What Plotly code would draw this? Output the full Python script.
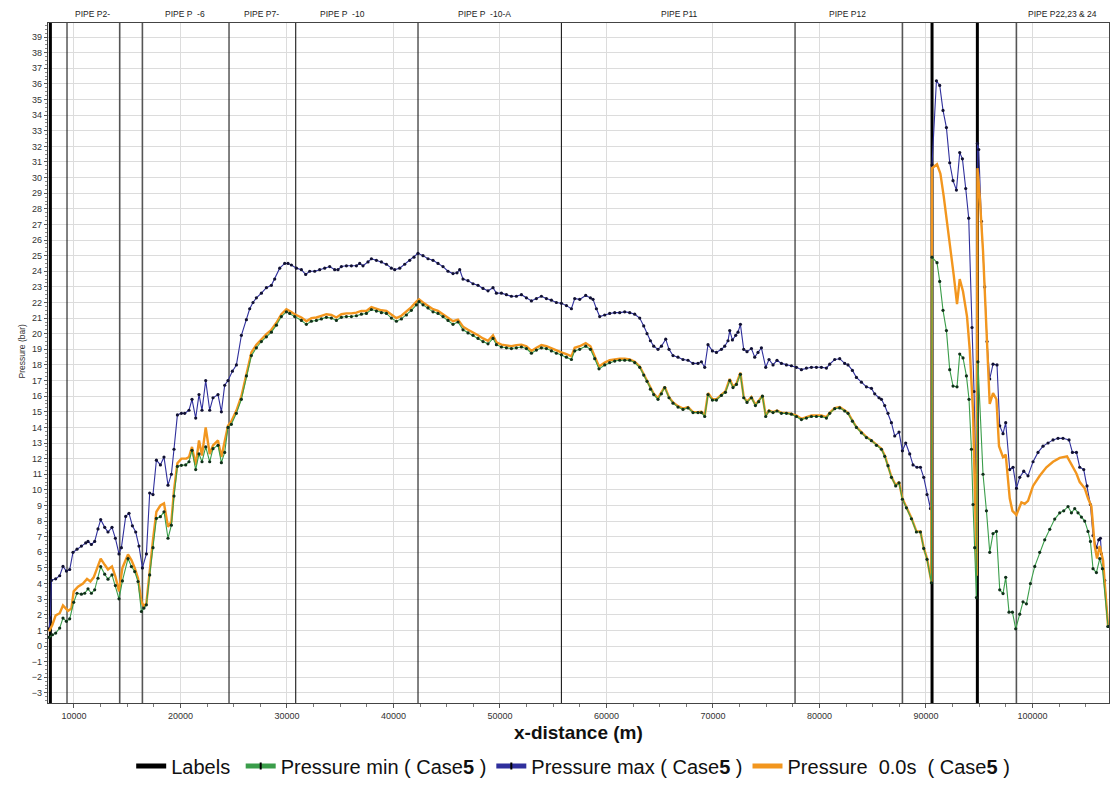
import plotly.graph_objects as go

# ---------------- data (x in metres, pressure in bar) ----------------
BLUE_X = [7653, 7785, 7879, 8282, 8658, 8968, 9287, 9597, 9907, 10283, 10696, 11100, 11316, 11635, 11945,
          12255, 12508, 12884, 13194, 13569, 13889, 14227, 14452, 14856, 15166, 15485, 15795, 16105, 16424,
          16800, 17109, 17419, 17739, 18114, 18453, 18828, 19147, 19391, 19711, 20086, 20396, 20800, 21082,
          21429, 21739, 22021, 22368, 22744, 23054, 23523, 23842, 24152, 24462, 24875, 25251, 25721, 26190,
          26500, 26810, 27129, 27599, 28068, 28538, 28848, 29317, 29787, 30096, 30416, 30885, 31355, 31759,
          32134, 32604, 33073, 33543, 34012, 34482, 34792, 35111, 35581, 36050, 36520, 36830, 37139, 37609,
          37929, 38398, 38867, 39337, 39806, 40116, 40586, 41055, 41525, 41929, 42304, 42774, 43243, 43713,
          44182, 44652, 45121, 45591, 45966, 46220, 46530, 47000, 47469, 47939, 48408, 48878, 49347, 49667,
          50136, 50605, 51075, 51544, 52014, 52483, 52953, 53422, 53892, 54361, 54831, 55300, 55770, 56240,
          56709, 57019, 57488, 58052, 58494, 58738, 59057, 59367, 59836, 60306, 60775, 61245, 61714, 62184,
          62653, 63123, 63499, 63808, 64128, 64438, 64841, 65160, 65564, 65874, 66250, 66719, 67189, 67658,
          68128, 68597, 68916, 69227, 69537, 69950, 70326, 70795, 71105, 71415, 71575, 71828, 72138, 72354,
          72579, 72889, 73199, 73612, 73922, 74232, 74551, 74955, 75265, 75641, 76016, 76430, 76899, 77369,
          77838, 78307, 78777, 79246, 79716, 80185, 80655, 80965, 81434, 81904, 82373, 82683, 83096, 83472,
          83941, 84411, 84881, 85190, 85594, 85819, 86130, 86440, 86759, 87069, 87473, 87790, 88101, 88477,
          88787, 89163, 89482, 89792, 90102, 90421, 90571, 90985, 91294, 91604, 91923, 92233, 92543, 92863,
          93172, 93426, 93736, 94017, 94328, 94516, 94742, 94836, 94958, 95210, 95520, 95736, 95990, 96300,
          96675, 96929, 97239, 97492, 97868, 98178, 98497, 98807, 99183, 99586, 100056, 100525, 100995,
          101464, 101934, 102403, 102873, 103436, 103756, 104131, 104441, 104817, 105127, 105446, 105690,
          106009, 106225, 106385, 106479, 106789, 107099]
BLUE_Y = [1.1, 1.8, 4.2, 4.3, 4.5, 5.1, 4.8, 4.9, 6.0, 6.2, 6.4, 6.6, 6.7, 6.5, 6.7,
          7.5, 8.1, 7.6, 7.3, 7.6, 6.9, 5.9, 6.3, 8.3, 8.5, 7.7, 7.3, 6.4, 5.0,
          5.9, 9.8, 9.7, 11.9, 11.6, 12.1, 10.3, 11.0, 12.6, 14.8, 14.9, 14.9, 15.1, 15.8,
          14.6, 16.1, 15.1, 17.0, 15.1, 15.9, 16.1, 15.0, 16.7, 17.0, 17.6, 18.0, 19.9, 20.9,
          21.6, 22.0, 22.3, 22.6, 22.95, 23.1, 23.5, 24.2, 24.5, 24.5, 24.4, 24.2, 24.1, 23.8,
          24.0, 24.0, 24.1, 24.2, 24.3, 24.1, 24.1, 24.3, 24.35, 24.35, 24.35, 24.5, 24.35, 24.6,
          24.8, 24.7, 24.6, 24.45, 24.2, 24.1, 24.2, 24.45, 24.7, 24.9, 25.15, 25.0, 24.8, 24.7,
          24.5, 24.3, 24.0, 23.85, 23.9, 24.1, 23.5, 23.4, 23.2, 23.1, 22.9, 22.75, 22.95, 22.6,
          22.6, 22.5, 22.4, 22.4, 22.5, 22.3, 22.1, 22.25, 22.4, 22.25, 22.15, 22.0, 21.95, 21.8,
          21.6, 22.25, 22.2, 22.45, 22.3, 22.2, 21.6, 21.1, 21.2, 21.3, 21.35, 21.35, 21.4, 21.35,
          21.25, 21.0, 20.5, 20.0, 19.55, 19.2, 19.0, 19.2, 19.65, 19.0, 18.6, 18.5, 18.35, 18.3,
          18.1, 18.1, 18.2, 17.85, 19.3, 18.9, 18.8, 19.0, 19.2, 19.55, 20.2, 19.6, 19.9, 20.1,
          20.6, 19.0, 18.85, 19.05, 18.5, 18.8, 19.1, 17.85, 18.35, 18.0, 18.3, 18.1, 18.0, 17.95,
          17.85, 17.7, 17.8, 17.85, 17.85, 17.85, 17.8, 18.05, 18.35, 18.4, 18.1, 18.0, 17.65, 17.2,
          16.9, 16.6, 16.5, 16.15, 15.9, 15.8, 15.4, 14.9, 14.3, 13.45, 13.7, 12.5, 13.0, 12.3,
          11.6, 11.45, 11.45, 10.8, 9.7, 8.8, 30.8, 36.2, 35.9, 34.3, 33.2, 30.95, 29.8, 29.2,
          31.6, 31.2, 29.3, 27.4, 20.4, 16.3, 9.0, 32.2, 31.8, 27.2, 23.0, 19.5, 17.1, 18.05,
          18.0, 14.1, 13.6, 14.3, 11.3, 11.45, 10.1, 10.8, 11.2, 10.9, 11.8, 12.4, 12.8,
          13.0, 13.2, 13.3, 13.3, 13.2, 12.4, 12.4, 11.45, 11.3, 10.25, 9.06, 7.07,
          6.3, 6.8, 6.9, 5.9, 4.2, 1.25]

ORANGE_X = [7653, 7973, 8282, 8658, 8968, 9437, 9757, 9973, 10377, 10846, 11222, 11541, 11851, 12161,
            12508, 12884, 13194, 13569, 13889, 14227, 14546, 15072, 15391, 15701, 16011, 16330, 16574,
            16800, 17109, 17419, 17739, 18114, 18453, 18828, 19147, 19391, 19711, 20086, 20556, 20800,
            21082, 21429, 21739, 22021, 22368, 22744, 23054, 23523, 23842, 24152, 24462, 24781, 25251,
            25721, 26190, 26660, 27129, 27599, 28068, 28538, 29008, 29477, 29947, 30256, 30726, 31355,
            31824, 32294, 32763, 33233, 33702, 34172, 34641, 35111, 35581, 36050, 36520, 36989, 37459,
            37929, 38398, 38867, 39337, 39806, 40276, 40745, 41215, 41684, 42154, 42398, 42774, 43243,
            43713, 44182, 44652, 45121, 45591, 46060, 46530, 47000, 47469, 47939, 48408, 48878, 49347,
            49667, 50136, 50605, 51075, 51544, 52014, 52483, 52953, 53422, 53892, 54361, 54831, 55300,
            55770, 56240, 56709, 57019, 57488, 58052, 58494, 58898, 59302, 59836, 60306, 60775, 61245,
            61714, 62184, 62653, 63123, 63499, 63808, 64128, 64438, 64841, 65160, 65471, 65874, 66250,
            66719, 67189, 67658, 68128, 68597, 68916, 69227, 69537, 69950, 70326, 70795, 71171, 71575,
            71884, 72204, 72579, 72889, 73199, 73612, 73988, 74297, 74645, 74955, 75265, 75641, 76016,
            76430, 76899, 77369, 77838, 78307, 78777, 79246, 79716, 80185, 80655, 80965, 81434, 81904,
            82373, 82683, 83096, 83472, 83941, 84411, 84881, 85350, 85819, 86130, 86440, 86759, 87163,
            87473, 87790, 88167, 88637, 89107, 89482, 89792, 90102, 90515, 90571, 91041, 91360, 91670,
            91923, 92299, 92609, 92919, 93172, 93482, 93858, 94111, 94422, 94646, 94770, 94836, 95051,
            95360, 95614, 95830, 95990, 96300, 96619, 96863, 97239, 97492, 97868, 98121, 98497, 98967,
            99276, 99586, 100056, 100684, 101313, 101934, 102562, 103248, 103662, 104131, 104441,
            104911, 105220, 105540, 105850, 106066, 106319, 106629, 107099]
ORANGE_Y = [0.94, 1.36, 1.96, 2.1, 2.6, 2.25, 2.4, 3.5, 3.8, 4.0, 4.3, 4.13, 4.4, 5.0,
            5.6, 5.2, 4.9, 5.1, 4.45, 3.5, 5.0, 5.87, 5.5, 5.0, 4.34, 2.85, 2.53,
            2.74, 4.9, 6.8, 8.6, 9.0, 9.13, 7.64, 7.96, 9.97, 11.7, 12.0, 12.0, 12.1,
            12.75, 11.57, 13.17, 12.2, 14.0, 12.3, 12.85, 13.17, 12.1, 13.17, 14.1, 14.4, 15.08,
            16.0, 17.5, 18.8, 19.3, 19.65, 19.97, 20.25, 20.7, 21.25, 21.57, 21.46, 21.25, 21.04,
            20.8, 21.0, 21.04, 21.15, 21.25, 21.2, 21.04, 21.25, 21.3, 21.3, 21.35, 21.46, 21.46,
            21.7, 21.6, 21.5, 21.46, 21.2, 21.0, 21.15, 21.4, 21.7, 22.05, 22.2, 22.0, 21.8,
            21.57, 21.46, 21.25, 21.04, 20.8, 20.9, 20.45, 20.25, 20.1, 19.9, 19.7, 19.55, 19.9,
            19.45, 19.3, 19.27, 19.2, 19.27, 19.3, 19.2, 18.9, 19.1, 19.27, 19.2, 19.06, 18.9,
            18.8, 18.7, 18.55, 19.1, 19.2, 19.4, 19.2, 18.55, 17.9, 18.15, 18.3, 18.35, 18.4,
            18.4, 18.35, 18.2, 17.9, 17.4, 17.0, 16.5, 16.15, 15.87, 16.2, 16.6, 15.94, 15.6,
            15.36, 15.2, 15.3, 14.98, 14.98, 15.0, 14.76, 16.2, 15.8, 15.8, 16.1, 16.3, 17.1,
            16.6, 16.8, 17.5, 15.94, 15.65, 15.94, 15.45, 15.7, 16.05, 14.76, 15.08, 14.98, 15.08,
            14.93, 14.93, 14.87, 14.76, 14.55, 14.66, 14.76, 14.76, 14.76, 14.66, 14.93, 15.23, 15.3,
            15.08, 14.93, 14.44, 14.02, 13.7, 13.38, 13.17, 12.9, 12.64, 12.2, 11.57, 10.83, 10.3,
            10.5, 9.45, 8.9, 8.2, 7.34, 7.34, 6.3, 5.6, 4.1, 30.6, 30.85, 30.25, 28.8,
            27.5, 25.6, 23.75, 21.9, 23.5, 22.7, 21.1, 19.0, 15.0, 8.4, 4.5, 30.6, 28.8,
            25.3, 21.6, 17.7, 15.5, 16.2, 15.8, 12.8, 12.1, 12.25, 9.46, 8.66, 8.4, 9.2,
            9.1, 9.3, 10.25, 10.9, 11.45, 11.8, 12.05, 12.15, 11.6, 11.05, 10.5,
            10.1, 9.46, 8.93, 6.4, 5.6, 6.4, 5.5, 1.25]

GREEN_X = [7653, 7973, 8282, 8658, 8968, 9287, 9597, 9973, 10283, 10696, 11006, 11316, 11635, 11945,
           12255, 12508, 12884, 13194, 13569, 13889, 14227, 14546, 15072, 15391, 15701, 16011, 16330,
           16574, 16800, 17109, 17419, 17739, 18114, 18453, 18828, 19147, 19391, 19711, 20086, 20490,
           20800, 21082, 21429, 21739, 22021, 22368, 22744, 23054, 23523, 23842, 24152, 24462, 24781,
           25251, 25721, 26190, 26660, 27129, 27599, 28068, 28538, 29008, 29477, 29947, 30256, 30726,
           31355, 31824, 32294, 32763, 33233, 33702, 34172, 34641, 35111, 35581, 36050, 36520, 36989,
           37459, 37929, 38398, 38867, 39337, 39806, 40276, 40745, 41215, 41684, 42154, 42398, 42774,
           43243, 43713, 44182, 44652, 45121, 45591, 46060, 46530, 47000, 47469, 47939, 48408, 48878,
           49347, 49667, 50136, 50605, 51075, 51544, 52014, 52483, 52953, 53422, 53892, 54361, 54831,
           55300, 55770, 56240, 56709, 57019, 57488, 58052, 58494, 58898, 59302, 59836, 60306, 60775,
           61245, 61714, 62184, 62653, 63123, 63499, 63808, 64128, 64438, 64841, 65160, 65471, 65874,
           66250, 66719, 67189, 67658, 68128, 68597, 68916, 69227, 69537, 69950, 70326, 70795, 71171,
           71575, 71884, 72204, 72579, 72889, 73199, 73612, 73988, 74297, 74645, 74955, 75265, 75641,
           76016, 76430, 76899, 77369, 77838, 78307, 78777, 79246, 79716, 80185, 80655, 80965, 81434,
           81904, 82373, 82683, 83096, 83472, 83941, 84411, 84881, 85350, 85819, 86130, 86440, 86759,
           87163, 87473, 87790, 88167, 88637, 89107, 89482, 89792, 90102, 90515, 90571, 91041, 91294,
           91604, 91923, 92233, 92543, 92919, 93172, 93482, 93802, 94045, 94271, 94422, 94581, 94742,
           94880, 95360, 95680, 95990, 96300, 96619, 96929, 97239, 97492, 97802, 98121, 98431, 98807,
           99117, 99435, 99811, 100217, 100684, 101155, 101624, 102093, 102562, 102939, 103343, 103662,
           103972, 104281, 104601, 104911, 105220, 105446, 105690, 106009, 106319, 106573, 107099]
GREEN_Y = [0.56, 0.72, 0.83, 1.15, 1.79, 1.58, 1.74, 2.8, 3.38, 3.32, 3.38, 3.66, 3.38, 3.6,
           4.34, 5.09, 4.6, 4.28, 4.55, 3.87, 3.02, 4.17, 5.6, 5.09, 4.77, 4.13, 2.21,
           2.43, 2.64, 4.55, 6.3, 8.17, 8.28, 8.6, 6.9, 7.74, 9.6, 11.5, 11.57, 11.6,
           11.8, 12.53, 11.3, 12.3, 11.8, 12.75, 11.8, 12.64, 12.85, 11.74, 12.4, 14.0, 14.2,
           14.9, 15.8, 17.3, 18.6, 19.1, 19.5, 19.8, 20.1, 20.55, 21.1, 21.4, 21.3, 21.1,
           20.85, 20.6, 20.8, 20.85, 20.95, 21.05, 21.0, 20.85, 21.05, 21.1, 21.1, 21.15, 21.25,
           21.3, 21.55, 21.45, 21.35, 21.3, 21.0, 20.8, 20.95, 21.2, 21.5, 21.85, 22.05, 21.85,
           21.65, 21.4, 21.3, 21.1, 20.85, 20.6, 20.75, 20.25, 20.05, 19.9, 19.7, 19.5, 19.35,
           19.7, 19.3, 19.15, 19.1, 19.05, 19.1, 19.15, 19.05, 18.75, 18.95, 19.1, 19.05, 18.9,
           18.75, 18.65, 18.5, 18.35, 18.9, 19.0, 19.2, 19.0, 18.4, 17.75, 18.0, 18.15, 18.25,
           18.3, 18.3, 18.3, 18.15, 17.85, 17.35, 16.95, 16.45, 16.1, 15.8, 16.15, 16.55, 15.9,
           15.55, 15.3, 15.15, 15.25, 14.95, 14.95, 14.95, 14.7, 16.1, 15.75, 15.75, 16.05, 16.25,
           17.0, 16.55, 16.75, 17.4, 15.9, 15.6, 15.9, 15.4, 15.65, 16.0, 14.7, 15.05, 14.95,
           15.05, 14.9, 14.9, 14.85, 14.7, 14.5, 14.6, 14.7, 14.7, 14.7, 14.6, 14.9, 15.2,
           15.25, 15.05, 14.9, 14.4, 14.0, 13.65, 13.35, 13.15, 12.85, 12.6, 12.15, 11.55, 10.8,
           10.25, 10.45, 9.4, 8.85, 8.15, 7.3, 7.3, 6.25, 5.55, 4.05, 24.9, 24.55, 23.35,
           21.5, 20.2, 17.7, 16.65, 16.6, 18.7, 18.45, 17.3, 15.8, 12.6, 9.06, 6.3, 3.1,
           18.2, 11.0, 8.66, 6.0, 7.2, 7.34, 3.6, 3.36, 4.4, 2.17, 2.17, 1.1, 2.04,
           2.83, 2.7, 4.0, 5.1, 6.0, 6.8, 7.47, 8.13, 8.53, 8.66, 8.93, 8.53,
           8.8, 8.53, 8.26, 8.0, 7.34, 6.7, 4.95, 4.7, 5.6, 4.95, 1.25]

# "Labels" vertical pipe-boundary markers (x positions, m)
LABEL_X_THIN = [9345, 24558, 30820, 42305, 55770, 77709]
LABEL_X_GREY = [14293, 16424, 87792, 98495]
LABEL_X_THICK = [7784, 90573, 94830]

PIPE_NAMES = ["PIPE P2-", "PIPE P\u00a0\u00a0-6", "PIPE P7-", "PIPE P\u00a0\u00a0-10",
              "PIPE P\u00a0\u00a0-10-A", "PIPE P11", "PIPE P12", "PIPE P22,23 & 24"]
PIPE_LABEL_X = [11757, 20396, 27628, 35233, 48568, 66783, 82653, 102843]

X_TICKS = [10000, 20000, 30000, 40000, 50000, 60000, 70000, 80000, 90000, 100000]
X_RANGE = [7560, 107190]
Y_RANGE = [-3.65, 39.9]

SERIES_NAMES = ["Labels\u00a0", "Pressure min ( Case<b>5</b> )", "Pressure max ( Case<b>5</b> )",
                "Pressure\u00a0\u00a00.0s\u00a0\u00a0( Case<b>5</b> )"]

BLUE = "#2f2f9c"
GREEN = "#3a9d4a"
ORANGE = "#f2961e"
MARK_DARK = "#111133"
NARROW = "Liberation Sans Narrow, Arial Narrow, Liberation Sans, Arial, sans-serif"
TICKFONT = "Liberation Sans, Arial, sans-serif"


def vlines(xs):
    vx, vy = [], []
    for xv in xs:
        vx += [xv, xv, None]
        vy += [Y_RANGE[0], Y_RANGE[1], None]
    return vx, vy


fig = go.Figure()

for xs, col, w in [(LABEL_X_THIN, "#1a1a1a", 1.1), (LABEL_X_GREY, "#555555", 1.6),
                   (LABEL_X_THICK, "#000000", 3)]:
    vx, vy = vlines(xs)
    fig.add_trace(go.Scatter(x=vx, y=vy, mode="lines", line=dict(color=col, width=w),
                             showlegend=False, hoverinfo="skip"))

fig.add_trace(go.Scatter(x=BLUE_X, y=BLUE_Y, mode="lines+markers",
                         line=dict(color=BLUE, width=1.1),
                         marker=dict(color=MARK_DARK, size=3.2), showlegend=False))
fig.add_trace(go.Scatter(x=ORANGE_X, y=ORANGE_Y, mode="lines",
                         line=dict(color=ORANGE, width=2.4), showlegend=False))
fig.add_trace(go.Scatter(x=GREEN_X, y=GREEN_Y, mode="lines+markers",
                         line=dict(color=GREEN, width=1.1),
                         marker=dict(color="#10301a", size=3.2), showlegend=False))

# legend entries
fig.add_trace(go.Scatter(x=[None], y=[None], mode="lines", name=SERIES_NAMES[0],
                         line=dict(color="black", width=5), legendrank=1))
fig.add_trace(go.Scatter(x=[None], y=[None], mode="lines+markers", name=SERIES_NAMES[1],
                         line=dict(color=GREEN, width=5),
                         marker=dict(color="black", size=5, symbol="line-ns",
                                     line=dict(color="black", width=2)), legendrank=2))
fig.add_trace(go.Scatter(x=[None], y=[None], mode="lines+markers", name=SERIES_NAMES[2],
                         line=dict(color=BLUE, width=5),
                         marker=dict(color="black", size=5, symbol="line-ns",
                                     line=dict(color="black", width=2)), legendrank=3))
fig.add_trace(go.Scatter(x=[None], y=[None], mode="lines", name=SERIES_NAMES[3],
                         line=dict(color=ORANGE, width=5), legendrank=4))

annotations = []
for name, xp in zip(PIPE_NAMES, PIPE_LABEL_X):
    annotations.append(dict(x=xp, y=1.0132, xref="x", yref="paper", text=name, showarrow=False,
                            xanchor="center", yanchor="middle",
                            font=dict(family=TICKFONT, size=8.5, color="#222")))
annotations.append(dict(x=-0.0245, y=0.517, xref="paper", yref="paper", text="Pressure (bar)",
                        textangle=-90, showarrow=False, xanchor="center", yanchor="middle",
                        font=dict(family=TICKFONT, size=8.5, color="#333")))
annotations.append(dict(x=0.5, y=-0.043, xref="paper", yref="paper", text="<b>x-distance (m)</b>",
                        showarrow=False, xanchor="center", yanchor="middle",
                        font=dict(family=NARROW, size=19, color="#111")))

fig.update_layout(
    width=1111, height=788,
    margin=dict(l=48, r=2, t=23, b=83),
    paper_bgcolor="white", plot_bgcolor="white",
    annotations=annotations,
    showlegend=True,
    legend=dict(orientation="h", x=0.495, y=-0.1215, xanchor="center", yanchor="bottom",
                font=dict(family=NARROW, size=20, color="#111"), bgcolor="rgba(0,0,0,0)",
                itemwidth=30, traceorder="normal", borderwidth=0),
    hovermode=False,
)
fig.update_xaxes(range=X_RANGE, tickvals=X_TICKS, ticktext=[str(v) for v in X_TICKS],
                 showgrid=True, gridcolor="#dcdcdc", gridwidth=1,
                 showline=True, linecolor="#444", linewidth=1.2, mirror=True,
                 ticks="outside", ticklen=4, tickcolor="#555",
                 minor=dict(dtick=2500, tick0=0, ticks="outside", ticklen=3, tickcolor="#777",
                            showgrid=False),
                 tickfont=dict(family=TICKFONT, size=9, color="#333"), zeroline=False)
fig.update_yaxes(range=Y_RANGE, dtick=1, tick0=0,
                 showgrid=True, gridcolor="#dcdcdc", gridwidth=1,
                 showline=True, linecolor="#444", linewidth=1.2, mirror=True,
                 ticks="outside", ticklen=3, tickcolor="#555",
                 minor=dict(dtick=0.25, ticks="outside", ticklen=2, tickcolor="#888",
                            showgrid=False),
                 tickfont=dict(family=TICKFONT, size=9, color="#333"), zeroline=False)

fig.write_html("out.html")
